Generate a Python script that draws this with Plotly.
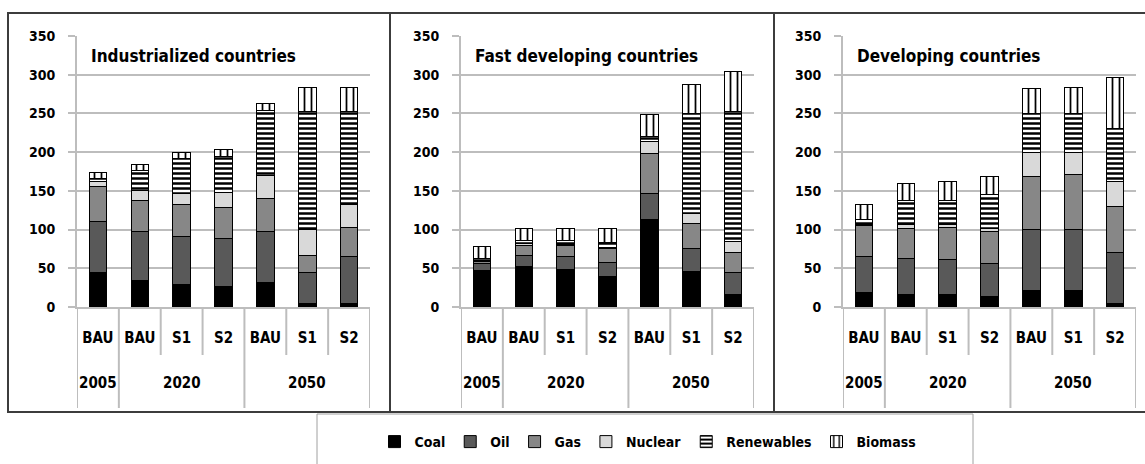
import plotly.graph_objects as go

# categories
scenarios = ["BAU", "BAU", "S1", "S2", "BAU", "S1", "S2"]
years = ["2005", "2020", "2020", "2020", "2050", "2050", "2050"]
regions = ["Industrialized countries", "Fast developing countries", "Developing countries"]
sources = ["Coal", "Oil", "Gas", "Nuclear", "Renewables", "Biomass"]

# values (stacked segments)
ind_coal = [45, 34, 29, 27, 32, 4, 5]
ind_oil = [66, 63, 62, 62, 65, 40, 60]
ind_gas = [44, 40, 41, 40, 43, 23, 38]
ind_nuclear = [7, 14, 15, 19, 30, 33, 30]
ind_renewables = [4, 25, 45, 46, 84, 152, 120]
ind_biomass = [8, 8, 7, 9, 9, 31, 30]

fast_coal = [47, 52, 49, 40, 113, 46, 16]
fast_oil = [9, 15, 16, 18, 33, 30, 29]
fast_gas = [3, 13, 14, 18, 52, 32, 26]
fast_nuclear = [1, 2, 2, 1, 16, 13, 13]
fast_renewables = [2, 4, 5, 6, 6, 129, 168]
fast_biomass = [16, 15, 15, 18, 29, 38, 52]

dev_coal = [19, 16, 16, 13, 21, 21, 4]
dev_oil = [46, 46, 45, 43, 79, 79, 66]
dev_gas = [40, 40, 42, 41, 68, 71, 60]
dev_nuclear = [1, 5, 4, 4, 31, 28, 32]
dev_renewables = [7, 30, 31, 44, 51, 51, 69]
dev_biomass = [20, 23, 24, 24, 32, 33, 65]

panel_data = [
    [ind_coal, ind_oil, ind_gas, ind_nuclear, ind_renewables, ind_biomass],
    [fast_coal, fast_oil, fast_gas, fast_nuclear, fast_renewables, fast_biomass],
    [dev_coal, dev_oil, dev_gas, dev_nuclear, dev_renewables, dev_biomass],
]

# styles per source: (fill colour, pattern shape)
styles = [
    ("#000000", ""),
    ("#595959", ""),
    ("#878787", ""),
    ("#d9d9d9", ""),
    ("#ffffff", "-"),
    ("#ffffff", "|"),
]

FONT = "DejaVu Sans Condensed, DejaVu Sans, sans-serif"
W, H = 1145, 464
GRID = "#bdbdbd"

# plot areas in pixels (left, right)
x_px = [(77, 370), (461, 754), (843, 1136)]
y_top, y_bot = 36, 307

fig = go.Figure()
x = list(range(len(scenarios)))

for p, data in enumerate(panel_data):
    n = "" if p == 0 else str(p + 1)
    for s, vals in enumerate(data):
        color, shape = styles[s]
        marker = dict(color=color, line=dict(color="black", width=1))
        if shape:
            marker["pattern"] = dict(shape=shape, fgcolor="black", bgcolor="white",
                                     size=5 if shape == "-" else 7,
                                     solidity=0.5 if shape == "-" else 0.25,
                                     fillmode="replace")
        fig.add_trace(go.Bar(
            x=x, y=vals, name=sources[s], marker=marker, width=0.42,
            xaxis="x" + n, yaxis="y" + n, showlegend=(p == 0),
        ))

    l, r = x_px[p]
    fig.layout["xaxis" + n] = dict(
        domain=[l / W, r / W], anchor="y" + n, range=[-0.5, len(x) - 0.5],
        tickvals=x, ticktext=scenarios, ticks="outside", ticklen=16,
        tickcolor="rgba(0,0,0,0)", showline=True, linecolor=GRID, linewidth=2,
        showgrid=False, zeroline=False, automargin=False,
        tickfont=dict(family=FONT, size=15, color="black", weight="bold"),
    )
    fig.layout["yaxis" + n] = dict(
        domain=[(H - y_bot) / H, (H - y_top) / H], anchor="x" + n,
        range=[0, 350], dtick=50, showgrid=True, gridcolor=GRID, gridwidth=2,
        showline=True, linecolor=GRID, linewidth=2, ticks="outside",
        ticklen=7, tickcolor=GRID, tickwidth=2, ticklabelstandoff=10,
        zeroline=False, automargin=False,
        tickfont=dict(family=FONT, size=14, color="black", weight="bold"),
    )

    # panel title
    fig.add_annotation(
        text=regions[p], xref="x" + n + " domain", yref="y" + n + " domain",
        x=0.04, y=0.926, xanchor="left", yanchor="middle", showarrow=False,
        font=dict(family=FONT, size=17, color="black", weight="bold"),
    )

    # year group labels
    for yr in dict.fromkeys(years):
        idx = [i for i, v in enumerate(years) if v == yr]
        fig.add_annotation(
            text=yr, xref="x" + n, yref="paper", x=sum(idx) / len(idx),
            y=(H - 383) / H, yanchor="middle", showarrow=False,
            font=dict(family=FONT, size=15, color="black", weight="bold"),
        )

    # category dividers below the axis
    for i in range(len(x) + 1):
        edge = i == 0 or i == len(x) or years[i - 1] != years[i]
        fig.add_shape(
            type="line", xref="x" + n, yref="paper", x0=i - 0.5, x1=i - 0.5,
            y0=(H - y_bot) / H, y1=(H - (408 if edge else 355)) / H,
            line=dict(color=GRID, width=2),
        )

# outer frame and panel separators
fig.add_shape(type="rect", xref="paper", yref="paper",
              x0=8 / W, x1=1.01, y0=(H - 412) / H, y1=(H - 13) / H,
              line=dict(color="#3c3c3c", width=2))
for xs in (390, 774):
    fig.add_shape(type="line", xref="paper", yref="paper",
                  x0=xs / W, x1=xs / W, y0=(H - 412) / H, y1=(H - 13) / H,
                  line=dict(color="#3c3c3c", width=2))

# legend frame
fig.add_shape(type="rect", xref="paper", yref="paper",
              x0=317 / W, x1=973 / W, y0=-0.05, y1=(H - 414) / H,
              line=dict(color="#a0a0a0", width=1))

fig.update_layout(
    width=W, height=H, barmode="stack",
    margin=dict(l=0, r=0, t=0, b=0, autoexpand=False),
    paper_bgcolor="white", plot_bgcolor="white",
    legend=dict(orientation="h", x=648 / W, xanchor="center",
                y=(H - 442) / H, yanchor="middle", itemwidth=30,
                traceorder="normal",
                font=dict(family=FONT, size=14, color="black", weight="bold")),
)

# page body has a default 8px margin; drop it so the figure sits at the corner
fig.write_html("out.html", config={"displayModeBar": False},
               post_script="document.body.style.margin='0';")
